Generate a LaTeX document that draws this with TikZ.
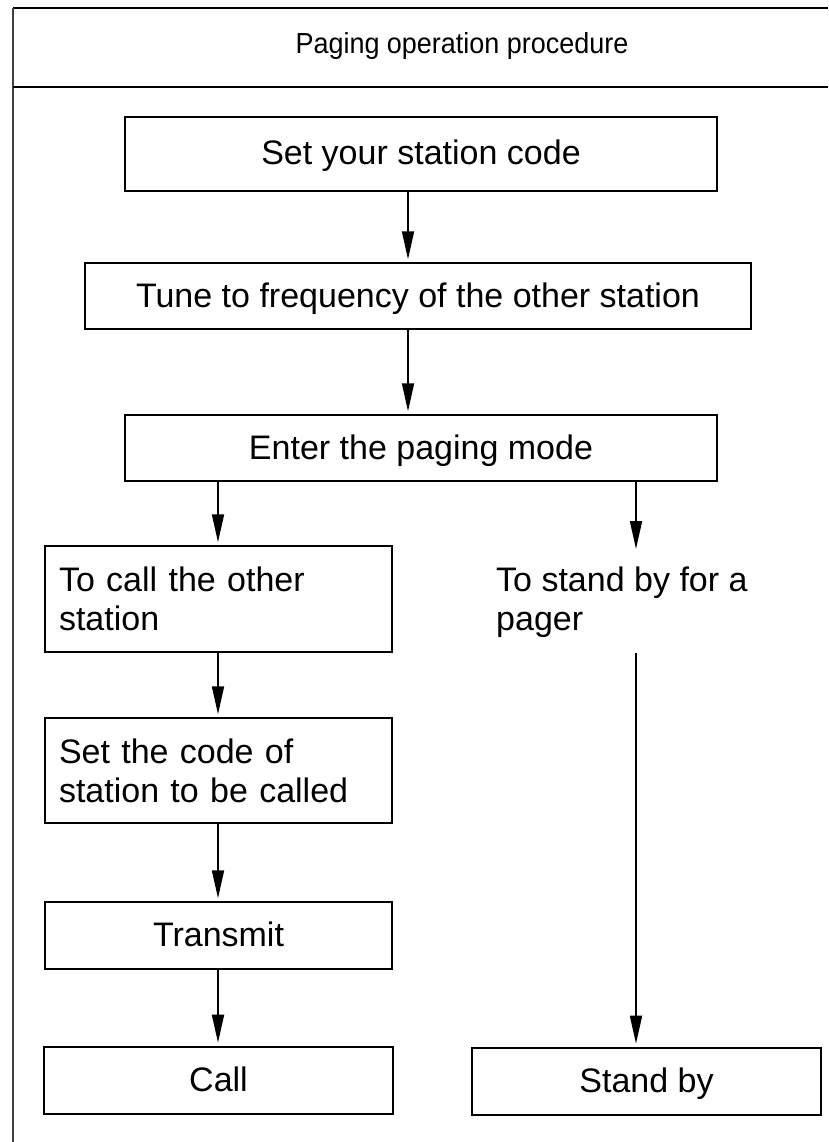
\documentclass[tikz,border=0pt]{standalone}
\usepackage{fontspec}
\setmainfont{Liberation Sans}
\newfontfamily\titlefont[FakeStretch=0.93]{Liberation Sans}
\usetikzlibrary{arrows.meta,calc}
\begin{document}
\begin{tikzpicture}[x=1pt,y=-1pt,
  box/.style={draw=black,line width=1.5pt,rectangle,inner sep=0pt,
    font=\fontsize{34}{39}\selectfont,text height=25pt,text depth=3pt},
  multibox/.style={draw=black,line width=1.5pt,rectangle,inner ysep=0pt,inner xsep=14pt,
    font=\fontsize{34}{39}\selectfont,align=left,text width=319pt},
  endbox/.style={box,line width=2.6pt},
  flow/.style={line width=1.8pt,-{Triangle[length=28pt,width=12pt]},shorten >=3pt},
  frame/.style={line width=2pt},
]
\useasboundingbox (0,0) rectangle (828,1142);
\fill[white] (0,0) rectangle (828,1142);

% frame
\coordinate (ftl) at (13,8);
\coordinate (ftr) at (828,8);
\coordinate (fbl) at (13,1142);
\coordinate (fsl) at (13,87);
\coordinate (fsr) at (828,87);
\draw[frame] (ftl) -- (ftr);
\draw[line width=1.2pt,black!75] (ftl) -- (fbl);
\draw[line width=2.5pt] (fsl) -- (fsr);

\node[anchor=base,font=\titlefont\fontsize{29}{34}\selectfont] (title) at (462,54) {Paging operation procedure};

% columns
\coordinate (cC) at (408,0);
\coordinate (cL) at (218,0);
\coordinate (cR) at (636,0);

\node[box,minimum width=592pt,minimum height=74pt] (b1) at (421,154) {Set your station code};
\node[box,minimum width=666pt,minimum height=66pt] (b2) at (418,296) {Tune to frequency of the other station};
\node[box,minimum width=592pt,minimum height=66pt] (b3) at (421,448) {Enter the paging mode};
\node[multibox,minimum height=106pt] (b4) at (218.5,599) {To call the other\\station};
\node[anchor=north west,inner xsep=14pt,inner ysep=15pt,align=left,
  font=\fontsize{34}{39}\selectfont] (t4r) at (482,552) {To stand by for a\\pager};
\node[multibox,minimum height=105pt] (b5) at (218.5,770.5) {Set the code of\\station to be called};
\node[box,minimum width=347pt,minimum height=67pt] (b6) at (218.5,935.5) {Transmit};
\node[endbox,minimum width=349pt,minimum height=67pt] (b7) at (218.5,1080.5) {Call};
\node[endbox,minimum width=349pt,minimum height=67pt] (b8) at (646.5,1081.5) {Stand by};

\draw[flow] (b1.south -| cC) -- (b2.north -| cC);
\draw[flow] (b2.south -| cC) -- (b3.north -| cC);
\draw[flow] (b3.south -| cL) -- (b4.north -| cL);
\draw[flow] (b3.south -| cR) -- (t4r.north -| cR);
\draw[flow] (b4.south -| cL) -- (b5.north -| cL);
\draw[flow] (b5.south -| cL) -- (b6.north -| cL);
\draw[flow] (b6.south -| cL) -- (b7.north -| cL);
\draw[flow] (t4r.south -| cR) -- (b8.north -| cR);
\end{tikzpicture}
\end{document}
